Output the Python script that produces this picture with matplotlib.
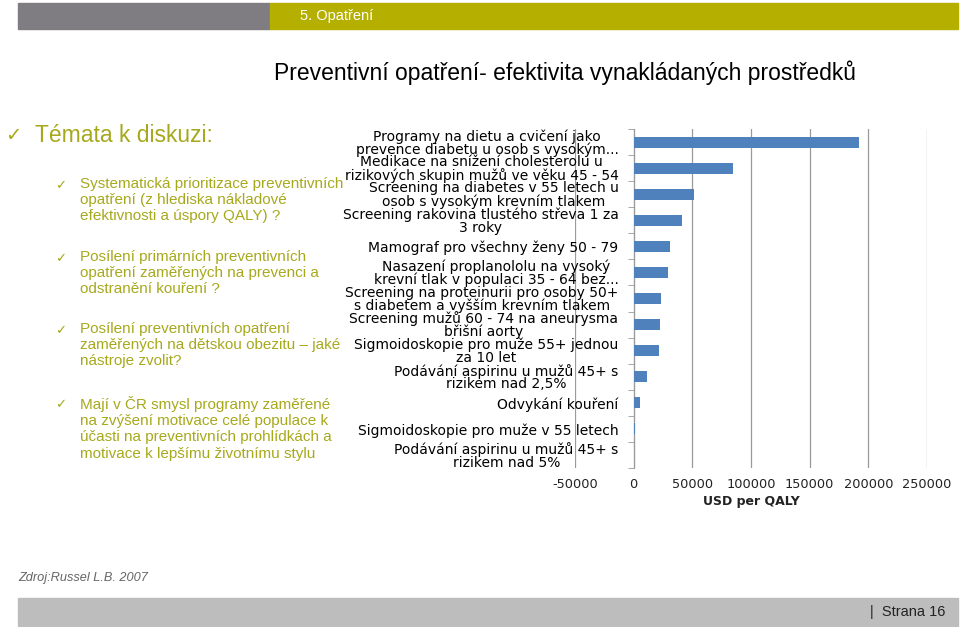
import matplotlib.pyplot as plt
from matplotlib.patches import Rectangle
from matplotlib.transforms import Bbox, TransformedBbox

# Chart data (USD per QALY), top to bottom as on the slide
categories = [
    'Programy na dietu a cvičení jako\nprevence diabetu u osob s vysokým...',
    'Medikace na snížení cholesterolu u\nrizikových skupin mužů ve věku 45 - 54',
    'Screening na diabetes v 55 letech u\nosob s vysokým krevním tlakem',
    'Screening rakovina tlustého střeva 1 za\n3 roky',
    'Mamograf pro všechny ženy 50 - 79',
    'Nasazení proplanololu na vysoký\nkrevní tlak v populaci 35 - 64 bez...',
    'Screening na proteinurii pro osoby 50+\ns diabetem a vyšším krevním tlakem',
    'Screening mužů 60 - 74 na aneurysma\nbřišní aorty',
    'Sigmoidoskopie pro muže 55+ jednou\nza 10 let',
    'Podávání aspirinu u mužů 45+ s\nrizikem nad 2,5%',
    'Odvykání kouření',
    'Sigmoidoskopie pro muže v 55 letech',
    'Podávání aspirinu u mužů 45+ s\nrizikem nad 5%',
]
usd_per_qaly = [192000, 85000, 51000, 41500, 31000, 29500, 23000, 22500, 22000, 11500, 5000, 1500, 0]
x_ticks = [-50000, 0, 50000, 100000, 150000, 200000, 250000]

bullets = [
    'Systematická prioritizace preventivních\nopatření (z hlediska nákladové\nefektivnosti a úspory QALY) ?',
    'Posílení primárních preventivních\nopatření zaměřených na prevenci a\nodstranění kouření ?',
    'Posílení preventivních opatření\nzaměřených na dětskou obezitu – jaké\nnástroje zvolit?',
    'Mají v ČR smysl programy zaměřené\nna zvýšení motivace celé populace k\núčasti na preventivních prohlídkách a\nmotivace k lepšímu životnímu stylu',
]
bullet_tops = [177, 250, 322, 396]

W, H = 960, 627
olive = '#a7a91c'

fig = plt.figure(figsize=(W / 100, H / 100), dpi=100)


def fx(x):
    return x / W


def fy(y):
    return 1 - y / H


# header and footer bars
fig.add_artist(Rectangle((fx(18), fy(29)), fx(252), 26 / H, color='#7f7d82', transform=fig.transFigure))
fig.add_artist(Rectangle((fx(270), fy(29)), fx(688), 26 / H, color='#b5b000', transform=fig.transFigure))
fig.text(fx(300), fy(16), '5. Opatření', color='white', fontsize=10.5,
         family='Liberation Sans', va='center')
fig.add_artist(Rectangle((fx(18), fy(626)), fx(940), 28 / H, color='#bdbdbd', transform=fig.transFigure))
fig.text(fx(945), fy(612), '|  Strana 16', color='#222222', fontsize=10.5,
         family='Liberation Sans', ha='right', va='center')
fig.text(fx(18), fy(578), 'Zdroj:Russel L.B. 2007', color='#666666', fontsize=9.2,
         family='Liberation Sans', style='italic', va='center')

# slide title
fig.text(fx(274), fy(73), 'Preventivní opatření- efektivita vynakládaných prostředků',
         fontsize=16.5, family='Liberation Sans', va='center', color='black')

# left column text
fig.text(fx(5), fy(136), '✓', fontsize=14, color=olive, family='DejaVu Sans', va='center')
fig.text(fx(35), fy(136), 'Témata k diskuzi:', fontsize=16.5, color=olive,
         family='Liberation Sans', va='center')
for txt, top in zip(bullets, bullet_tops):
    fig.text(fx(55), fy(top + 9), '✓', fontsize=9.5, color=olive, family='DejaVu Sans', va='center')
    fig.text(fx(80), fy(top), txt, fontsize=11, color=olive, family='Liberation Sans',
             va='top', linespacing=1.2)

# bar chart
ax = fig.add_axes([fx(575), fy(468), fx(927 - 575), (468 - 129) / H])
ax.barh(range(len(categories)), usd_per_qaly, height=0.42, color='#4f81bd', zorder=3)
ax.set_xlim(-50000, 250000)
ax.set_ylim(len(categories) - 0.5, -0.5)
ax.set_xticks(x_ticks)
ax.set_xticklabels([str(t) for t in x_ticks], fontsize=9.3, family='DejaVu Sans', color='#222222')
ax.tick_params(axis='x', length=0, pad=7)
ax.grid(axis='x', color='#9a9a9a', linewidth=0.9, zorder=0)
ax.set_axisbelow(True)

ax.set_yticks(range(len(categories)))
ax.set_yticklabels(categories, fontsize=7.6, family='Open Sans', color='#222222')
ax.set_yticks([i - 0.5 for i in range(len(categories) + 1)], minor=True)
ax.tick_params(axis='y', which='major', length=0, pad=11)
ax.tick_params(axis='y', which='minor', length=4, direction='out', color='#9a9a9a')

for s in ['top', 'right', 'bottom']:
    ax.spines[s].set_visible(False)
ax.spines['left'].set_position(('data', 0))
ax.spines['left'].set_color('#9a9a9a')

clip = TransformedBbox(Bbox([[fx(340), 0], [1, 1]]), fig.transFigure)
for lbl in ax.get_yticklabels():
    lbl.set_multialignment('center')
    lbl.set_linespacing(0.88)
    lbl.set_clip_box(clip)
    lbl.set_clip_on(True)

ax.set_xlabel('USD per QALY', fontsize=9, family='DejaVu Sans', fontweight='bold',
              labelpad=3, color='#222222')

fig.savefig('out.png', dpi=100)
